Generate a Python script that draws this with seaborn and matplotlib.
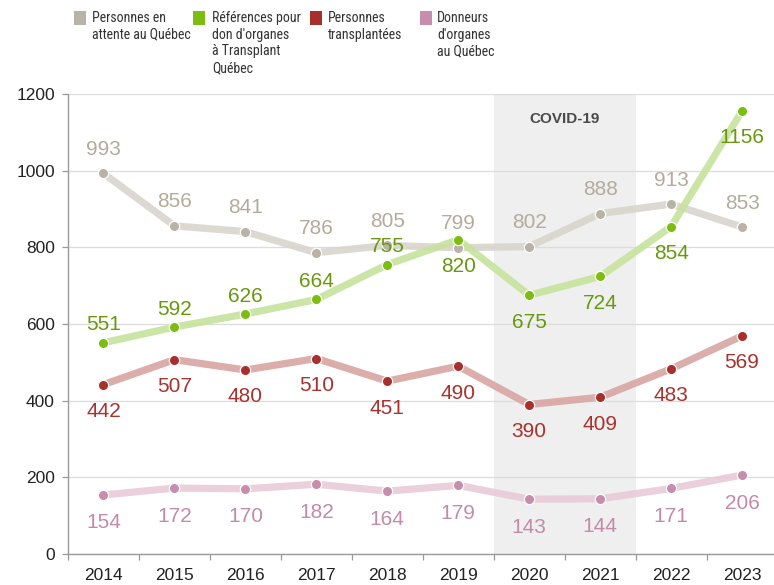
import matplotlib
matplotlib.use("Agg")
import matplotlib.pyplot as plt
from matplotlib import font_manager
from matplotlib.patches import Rectangle
import seaborn as sns
import pandas as pd

years = [2014, 2015, 2016, 2017, 2018, 2019, 2020, 2021, 2022, 2023]
attente = [993, 856, 841, 786, 805, 799, 802, 888, 913, 853]
references = [551, 592, 626, 664, 755, 820, 675, 724, 854, 1156]
transplantees = [442, 507, 480, 510, 451, 490, 390, 409, 483, 569]
donneurs = [154, 172, 170, 182, 164, 179, 143, 144, 171, 206]

legend_labels = [
    "Personnes en\nattente au Québec",
    "Références pour\ndon d'organes\nà Transplant\nQuébec",
    "Personnes\ntransplantées",
    "Donneurs\nd'organes\nau Québec",
]
covid_label = "COVID-19"

sns.set_theme(style="white")
fonts = font_manager.fontManager.ttflist
avail = {f.name for f in fonts}
base_font = "Liberation Sans" if "Liberation Sans" in avail else "DejaVu Sans"

narrow_font, narrow_stretch, legend_size = base_font, "normal", 8.6
for cand in ["Liberation Sans Narrow", "Roboto Condensed", "Open Sans Condensed",
             "Noto Sans Condensed", "DejaVu Sans Condensed"]:
    if cand in avail:
        narrow_font, legend_size = cand, 10
        break
else:
    for f in fonts:
        if f.name in ("Roboto", "Noto Sans", "Open Sans") and str(f.stretch) in ("condensed", "semi-condensed", "75", "87.5"):
            narrow_font, narrow_stretch, legend_size = f.name, "condensed", 10
            break

plt.rcParams["font.family"] = [base_font, "DejaVu Sans"]

fig = plt.figure(figsize=(7.74, 5.85), dpi=100)
W, H = 774, 585
ax = fig.add_axes([68 / W, (H - 554) / H, (774 - 68) / W, (554 - 94) / H])

series = [
    # values, line color, marker color, label color, placement, offsets(px) above/below
    (attente, "#d8d5cc", "#b9b3a6", "#b3ac9c", ["a"] * 10, (-24, 26)),
    (references, "#c6e39c", "#7dbd12", "#68980f",
     ["a", "a", "a", "a", "a", "b", "b", "b", "b", "b"], (-18, 27)),
    (transplantees, "#d8a5a3", "#a8302c", "#a8322d", ["b"] * 10, (-24, 27)),
    (donneurs, "#e9cbd8", "#c68eac", "#c38aa9", ["b"] * 10, (-24, 28)),
]

ax.axvspan(2019.5, 2021.5, color="#efefef", zorder=0, lw=0)

for vals, lc, mc, tc, place, (off_a, off_b) in series:
    df = pd.DataFrame({"year": years, "value": vals})
    sns.lineplot(data=df, x="year", y="value", ax=ax, color=lc, lw=5.2,
                 alpha=0.9, zorder=2, solid_capstyle="round")
    sns.scatterplot(data=df, x="year", y="value", ax=ax, color=mc, s=55,
                    edgecolor="white", linewidth=0.9, zorder=4)
    for x, v, p in zip(years, vals, place):
        dy = -(off_a if p == "a" else off_b) * 0.72
        ax.annotate(str(v), (x, v), xytext=(0, dy), textcoords="offset points",
                    ha="center", va="center", fontsize=15, color=tc, zorder=5)

ax.text(2020.5, 1135, covid_label, ha="center", va="center", fontsize=11,
        fontweight="bold", color="#4a4a4a", zorder=3)

ax.set_xlim(2013.5, 2023.45)
ax.set_ylim(0, 1200)
ax.set_xticks(years)
ax.set_xticks([y - 0.5 for y in years], minor=True)
ax.set_yticks([0, 200, 400, 600, 800, 1000, 1200])
ax.tick_params(axis="x", which="major", length=0, pad=10, labelsize=12.5,
               labelcolor="#222222")
ax.tick_params(axis="x", which="minor", length=4, width=0.9, color="#999999",
               direction="out", bottom=True)
ax.tick_params(axis="y", length=4.5, width=0.9, color="#999999", pad=5,
               labelsize=12.5, labelcolor="#222222", left=True)
ax.set_xlabel("")
ax.set_ylabel("")
ax.grid(axis="y", color="#dcdcdc", lw=0.9, zorder=1)
ax.set_axisbelow(True)
for s in ["top", "right"]:
    ax.spines[s].set_visible(False)
for s in ["left", "bottom"]:
    ax.spines[s].set_color("#9a9a9a")
    ax.spines[s].set_linewidth(1.0)

# Legend
leg_sq_x = [74, 193, 310, 420]
leg_tx_x = [92, 212, 328, 437]
for (vals, lc, mc, tc, place, offs), sx, tx, lab in zip(series, leg_sq_x, leg_tx_x, legend_labels):
    fig.patches.append(Rectangle((sx / W, 1 - 25 / H), 12 / W, 14 / H,
                                 transform=fig.transFigure, color=mc, lw=0))
    fig.text(tx / W, 1 - 11 / H, lab, ha="left", va="top", fontsize=legend_size,
             color="#333333", linespacing=1.25, fontstretch=narrow_stretch,
             family=[narrow_font, "DejaVu Sans"])

fig.savefig("out.png", dpi=100)
